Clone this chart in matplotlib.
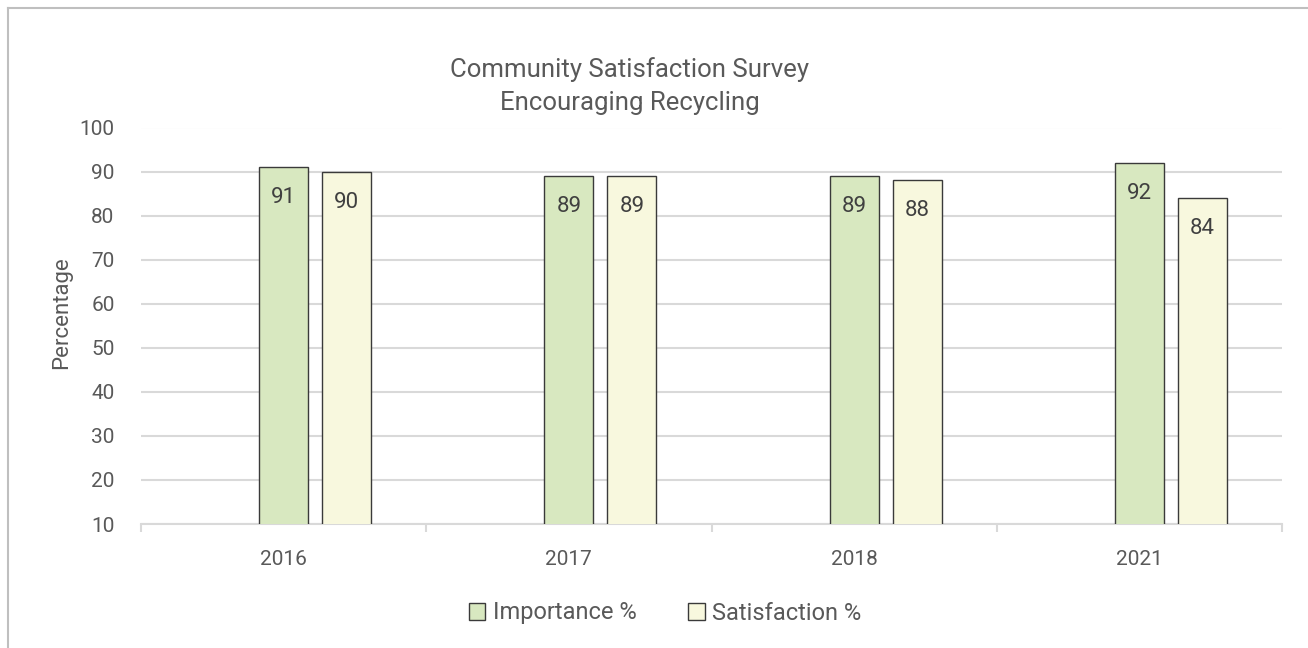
import numpy as np
import matplotlib.pyplot as plt
from matplotlib.lines import Line2D
from matplotlib.patches import Patch

plt.rcParams["font.family"] = ["Roboto", "DejaVu Sans"]

years = ["2016", "2017", "2018", "2021"]
importance = [91, 89, 89, 92]
satisfaction = [90, 89, 88, 84]

TEXT = "#595959"
GREEN = "#D8E8C0"
CREAM = "#F8F8DE"
EDGE = "#3A3A3A"
GRID = "#D9D9D9"

W, H = 1308, 648
fig = plt.figure(figsize=(W / 100, H / 100), dpi=100)

# plot area in pixel coords
left, right, top, bottom = 141, 1282, 127.5, 524
ax = fig.add_axes([left / W, 1 - bottom / H, (right - left) / W, (bottom - top) / H])

x = np.arange(len(years))
bw = 49 / 285
off = 63 / 285
ax.bar(x, importance, bw, color=GREEN, edgecolor=EDGE, lw=1, zorder=3,
       label="Importance %")
ax.bar(x + off, satisfaction, bw, color=CREAM, edgecolor=EDGE, lw=1, zorder=3,
       label="Satisfaction %")

# data labels, inside end
for xi, v in zip(x, importance):
    ax.annotate(f"{v}", (xi, v), xytext=(0, -22), textcoords="offset points",
                ha="center", va="center", fontsize=16, color="#404040", zorder=4)
for xi, v in zip(x, satisfaction):
    ax.annotate(f"{v}", (xi + off, v), xytext=(0, -22), textcoords="offset points",
                ha="center", va="center", fontsize=16, color="#404040", zorder=4)

ax.set_ylim(10, 100)
ax.set_yticks(np.arange(10, 101, 10))
ax.set_xlim(-0.5, 3.5)
ax.yaxis.grid(True, color=GRID, lw=1.5, zorder=0)
ax.tick_params(axis="y", length=0, pad=19, labelsize=15, labelcolor=TEXT)

# category labels at centres, tick marks at boundaries
ax.set_xticks(np.arange(-0.5, 4, 1))
ax.set_xticklabels([])
ax.tick_params(axis="x", which="major", length=6, width=1.5, color=GRID)
ax.set_xticks(x, minor=True)
ax.set_xticklabels(years, minor=True)
ax.tick_params(axis="x", which="minor", length=0, pad=19, labelsize=15,
               labelcolor=TEXT)

for s in ["left", "right", "top"]:
    ax.spines[s].set_visible(False)
ax.spines["bottom"].set_color(GRID)
ax.spines["bottom"].set_linewidth(1.5)

fig.text(62 / W, 1 - 313 / H, "Percentage", rotation=90, ha="center",
         va="center", fontsize=16, color=TEXT)

fig.text(630 / W, 1 - 70 / H, "Community Satisfaction Survey", ha="center",
         va="center", fontsize=18.5, color=TEXT)
fig.text(630 / W, 1 - 103 / H, "Encouraging Recycling", ha="center",
         va="center", fontsize=18.5, color=TEXT)

handles = [Patch(facecolor=GREEN, edgecolor=EDGE, lw=1),
           Patch(facecolor=CREAM, edgecolor=EDGE, lw=1)]
fig.legend(handles, ["Importance %", "Satisfaction %"], loc="center",
           bbox_to_anchor=(665 / W, 1 - 613 / H), ncol=2, frameon=False,
           fontsize=17, labelcolor=TEXT, handlelength=0.7, handleheight=0.7,
           handletextpad=0.3, columnspacing=2.2)

# outer chart frame (only top and left edges show)
fig.add_artist(Line2D([8 / W, 1], [1 - 8 / H, 1 - 8 / H], color="#BFBFBF", lw=1.5))
fig.add_artist(Line2D([8 / W, 8 / W], [0, 1 - 8 / H], color="#BFBFBF", lw=1.5))

fig.savefig("out.png", dpi=100, facecolor="white")
